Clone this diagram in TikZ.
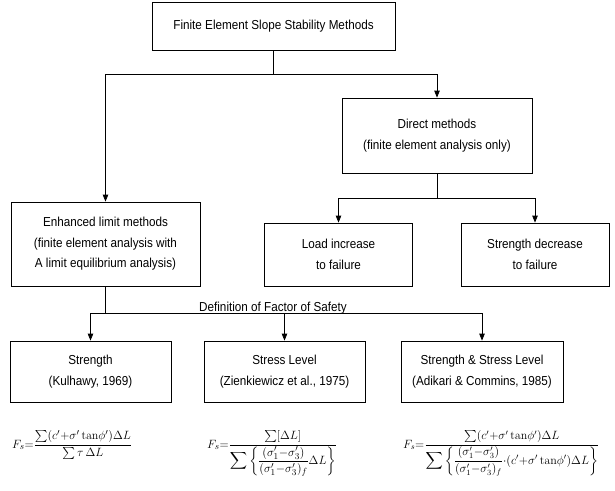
\documentclass[tikz,border=0pt]{standalone}
\usepackage{amsmath}
\usepackage[no-math]{fontspec}
\setmainfont{Liberation Sans}[FakeStretch=0.9]
\usetikzlibrary{arrows.meta}
\newcommand{\tanop}{\tan\!}
\begin{document}
\begin{tikzpicture}[x=1pt,y=-1pt,
  box/.style={draw,line width=0.8pt,inner sep=0pt,align=center,
    font=\fontsize{13}{20.5}\selectfont},
  conn/.style={line width=0.8pt},
  arr/.style={line width=0.8pt,-{Triangle[length=7pt,width=5.5pt]}},
  formula/.style={inner sep=0pt,anchor=base west,font=\fontsize{13}{16}\selectfont}]
\useasboundingbox (0,0) rectangle (615,490);
% boxes
\node[box,minimum width=243pt,minimum height=48pt] (top) at (273.5,26) {Finite Element Slope Stability Methods};
\node[box,minimum width=190pt,minimum height=75pt] (direct) at (437,135.5) {Direct methods\\(finite element analysis only)};
\node[box,minimum width=189pt,minimum height=84pt] (enh) at (105.5,244) {Enhanced limit methods\\(finite element analysis with\\A limit equilibrium analysis)};
\node[box,minimum width=148pt,minimum height=63pt] (load) at (338.5,254.5) {Load increase\\to failure};
\node[box,minimum width=148pt,minimum height=63pt] (sdec) at (535,254.5) {Strength decrease\\to failure};
\node[box,minimum width=161pt,minimum height=61pt] (str) at (90.5,371.5) {Strength\\(Kulhawy, 1969)};
\node[box,minimum width=161pt,minimum height=61pt] (stl) at (284.5,371.5) {Stress Level\\(Zienkiewicz et al., 1975)};
\node[box,minimum width=162pt,minimum height=61pt] (ssl) at (482,371.5) {Strength \& Stress Level\\(Adikari \& Commins, 1985)};
% junctions
\coordinate (j1) at (273.5,74);
\coordinate (j2) at (437,198);
\coordinate (j3) at (105.5,313);
% connectors
\draw[conn] (top.south) -- (j1);
\draw[arr] (j1) -| (direct.north);
\draw[arr] (j1) -| (enh.north);
\draw[conn] (direct.south) -- (j2);
\draw[arr] (j2) -| (load.north);
\draw[arr] (j2) -| (sdec.north);
\draw[conn,line width=1.3pt] (enh.south) -- (j3);
\draw[arr] (j3) -| (str.north);
\draw[arr] (j3) -| (stl.north);
\draw[arr] (j3) -| (ssl.north);
\node[inner sep=0pt,anchor=base,font=\fontsize{13}{15}\selectfont] (def) at (273,311) {Definition of Factor of Safety};
% formulas
\node[formula] (f1) at (12,448) {$F_s{=}\dfrac{\textstyle\sum(c'{+}\sigma'\tanop\phi')\Delta L}{\textstyle\sum\tau\,\Delta L}$};
\node[formula] (f2) at (207,448) {$F_s{=}\dfrac{\textstyle\sum[\Delta L]}{\displaystyle\sum\left\{\dfrac{(\sigma'_1{-}\sigma'_3)}{(\sigma'_1{-}\sigma'_3)_f}\Delta L\right\}}$};
\node[formula,font=\fontsize{11.8}{14}\selectfont] (f3) at (403,448) {$F_s{=}\dfrac{\textstyle\sum(c'{+}\sigma'\tanop\phi')\Delta L}{\displaystyle\sum\left\{\dfrac{(\sigma'_1{-}\sigma'_3)}{(\sigma'_1{-}\sigma'_3)_f}{\cdot}(c'{+}\sigma'\tanop\phi')\Delta L\right\}}$};
\end{tikzpicture}
\end{document}
